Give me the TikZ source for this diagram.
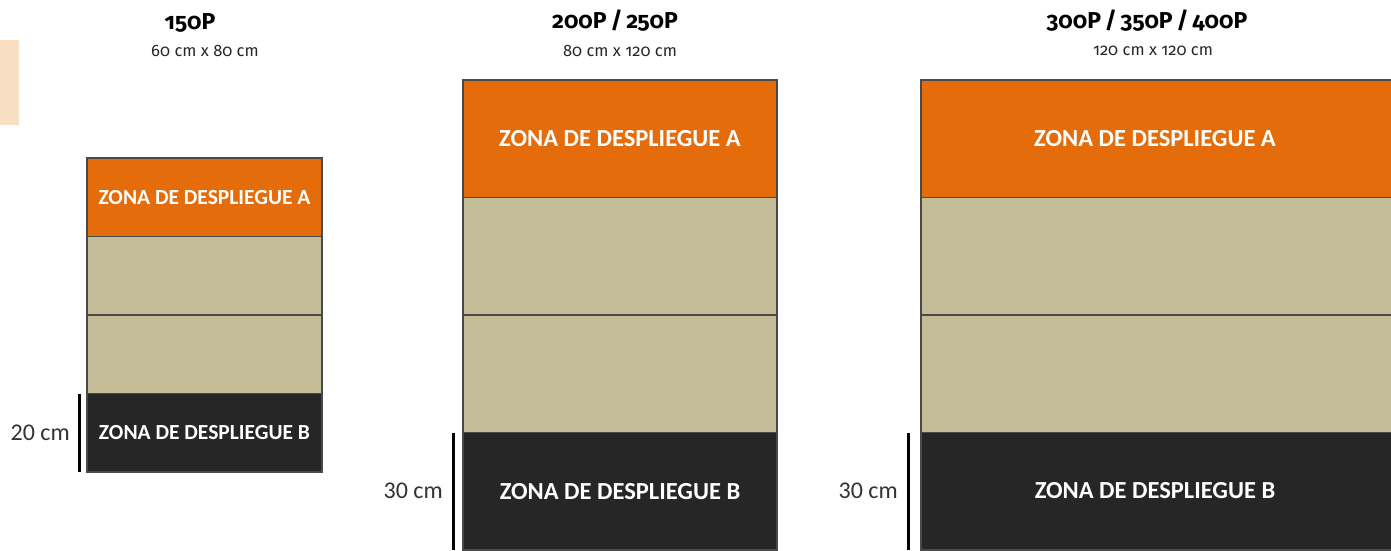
\documentclass[tikz,border=0pt]{standalone}
\usepackage{fontspec}
\newfontfamily\titlefont[Numbers=OldStyle]{Fira Sans}
\newfontfamily\zonefont{Carlito}
\definecolor{orz}{HTML}{E46C0A}
\definecolor{tan}{HTML}{C4BD97}
\definecolor{darkz}{HTML}{262626}
\definecolor{pale}{HTML}{F8DEC3}
\definecolor{edge}{HTML}{4A4A4A}
\definecolor{lbl}{HTML}{333333}
\tikzset{
  zone/.style={draw=edge, line width=1.2pt, inner sep=0pt, outer sep=0pt, anchor=north west, text=white},
  title/.style={font=\titlefont\bfseries\fontsize{23}{25}\selectfont, text=black, inner sep=0pt},
  sub/.style={font=\titlefont\fontsize{16.5}{18}\selectfont, text=black!85, inner sep=0pt},
  dimlbl/.style={font=\zonefont\fontsize{24}{26}\selectfont, text=lbl, inner sep=0pt, anchor=east},
  dimbar/.style={line width=3pt, black}
}
\begin{document}
\begin{tikzpicture}[x=1pt,y=-1pt]
\useasboundingbox (0,0) rectangle (1391,551);
\fill[pale] (0,40) rectangle (19,125);

% ---- box 1
\node[title] (t1) at (190,23) {150P};
\node[sub] (s1) at (205,51) {60 cm x 80 cm};
\node[zone, fill=orz, minimum width=235pt, minimum height=78.5pt, font=\zonefont\bfseries\fontsize{21.5}{23}\selectfont] (a1) at (87,158) {ZONA DE DESPLIEGUE A};
\node[zone, fill=tan, minimum width=235pt, minimum height=78.5pt] (m1) at (a1.south west) {};
\node[zone, fill=tan, minimum width=235pt, minimum height=78.5pt] (n1) at (m1.south west) {};
\node[zone, fill=darkz, minimum width=235pt, minimum height=78.5pt, font=\zonefont\bfseries\fontsize{21.5}{23}\selectfont] (b1) at (n1.south west) {ZONA DE DESPLIEGUE B};
\coordinate (d1t) at ([xshift=-8pt]b1.north west);
\coordinate (d1b) at ([xshift=-8pt]b1.south west);
\draw[dimbar] (d1t) -- (d1b);
\node[dimlbl] (l1) at ([xshift=-17pt]b1.west) {20 cm};

% ---- box 2
\node[title] (t2) at (615,21) {200P\,/\,250P};
\node[sub] (s2) at (620,51) {80 cm x 120 cm};
\node[zone, fill=orz, minimum width=314pt, minimum height=117.5pt, font=\zonefont\bfseries\fontsize{24.5}{26}\selectfont] (a2) at (463,80) {ZONA DE DESPLIEGUE A};
\node[zone, fill=tan, minimum width=314pt, minimum height=117.5pt] (m2) at (a2.south west) {};
\node[zone, fill=tan, minimum width=314pt, minimum height=117.5pt] (n2) at (m2.south west) {};
\node[zone, fill=darkz, minimum width=314pt, minimum height=117.5pt, font=\zonefont\bfseries\fontsize{24.5}{26}\selectfont] (b2) at (n2.south west) {ZONA DE DESPLIEGUE B};
\coordinate (d2t) at ([xshift=-10pt]b2.north west);
\coordinate (d2b) at ([xshift=-10pt]b2.south west);
\draw[dimbar] (d2t) -- (d2b);
\node[dimlbl] (l2) at ([xshift=-20pt]b2.west) {30 cm};

% ---- box 3
\node[title] (t3) at (1147,21) {300P\,/\,350P\,/\,400P};
\node[sub] (s3) at (1153,51) {120 cm x 120 cm};
\node[zone, fill=orz, minimum width=480pt, minimum height=117.5pt] (a3) at (921,80) {};
\node[text=white, inner sep=0pt, font=\zonefont\bfseries\fontsize{24.5}{26}\selectfont] (a3t) at (1155,139) {ZONA DE DESPLIEGUE A};
\node[zone, fill=tan, minimum width=480pt, minimum height=117.5pt] (m3) at (a3.south west) {};
\node[zone, fill=tan, minimum width=480pt, minimum height=117.5pt] (n3) at (m3.south west) {};
\node[zone, fill=darkz, minimum width=480pt, minimum height=117.5pt] (b3) at (n3.south west) {};
\node[text=white, inner sep=0pt, font=\zonefont\bfseries\fontsize{24.5}{26}\selectfont] (b3t) at (1155,491) {ZONA DE DESPLIEGUE B};
\coordinate (d3t) at ([xshift=-13pt]b3.north west);
\coordinate (d3b) at ([xshift=-13pt]b3.south west);
\draw[dimbar] (d3t) -- (d3b);
\node[dimlbl] (l3) at ([xshift=-23pt]b3.west) {30 cm};
\end{tikzpicture}
\end{document}
